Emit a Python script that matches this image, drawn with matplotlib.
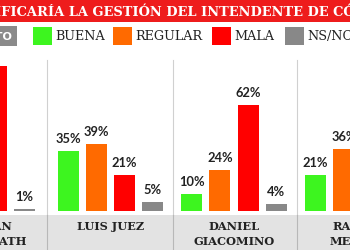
import matplotlib.pyplot as plt
from matplotlib.patches import Rectangle

# survey data (cropped view of a wider chart)
candidates = ["GERMÁN\nKAMMERATH", "LUIS JUEZ", "DANIEL\nGIACOMINO", "RAMÓN\nMESTRE"]
categories = ["BUENA", "REGULAR", "MALA", "NS/NC"]
buena = [4, 35, 10, 21]
regular = [10, 39, 24, 36]
mala = [85, 21, 62, 39]
nsnc = [1, 5, 4, 4]

title = "¿CÓMO CALIFICARÍA LA GESTIÓN DEL INTENDENTE DE CÓRDOBA?"
colors = ["#3df51f", "#ff6a00", "#ff0000", "#888888"]

W, H = 350, 250
fig = plt.figure(figsize=(3.5, 2.5), dpi=100)

# background / decoration axes in pixel coordinates
bg = fig.add_axes([0, 0, 1, 1])
bg.set_xlim(0, W)
bg.set_ylim(H, 0)
bg.axis("off")

bg.add_patch(Rectangle((0, 0), W, 22, color="#ee1c1c", lw=0))
bg.add_patch(Rectangle((0, 215), W, 35, color="#e3e3e3", lw=0))

group_x = [-18, 110.5, 234, 358]
seps = [46.5, 173, 297]
for s in seps:
    bg.plot([s, s], [60, 215], color="#d0d0d0", lw=0.8)
    bg.plot([s, s], [215, 250], color="#b8b8b8", lw=0.8)

# title, shifted so that the crop starts inside "CALIFICARÍA"
tfont = dict(fontsize=9.4, fontweight="bold", family="DejaVu Serif")
t = bg.text(0, 11.5, title, color="white", va="center", ha="left", **tfont)
fig.canvas.draw()
pre = bg.text(0, 11.5, "¿CÓMO CALI", va="center", **tfont)
r = fig.canvas.get_renderer()
wpre = pre.get_window_extent(r).width
pre.remove()
t.set_x(-wpre + 1)

# legend row
bg.add_patch(Rectangle((-30, 26), 47, 20, color="#8a8a8a", lw=0))
bg.text(13, 36.5, "VOTO", color="white", fontsize=8, fontweight="bold",
        family="DejaVu Sans", ha="right", va="center")
leg_x = [33, 113, 212, 285]
for lx, lab, c in zip(leg_x, categories, colors):
    bg.add_patch(Rectangle((lx, 27), 18.5, 18, color=c, lw=0))
    bg.text(lx + 22, 36.5, lab, fontsize=9.2, family="DejaVu Serif",
            color="#222222", ha="left", va="center")

# candidate names
for gx, name in zip(group_x, candidates):
    bg.text(gx, 220.5, name, fontsize=8.2, fontweight="bold", family="DejaVu Serif",
            color="#222222", ha="center", va="top", linespacing=1.5)

# bars
ax = fig.add_axes([0, (H - 211) / H, 1, 189 / H])
ax.set_xlim(0, W)
ax.set_ylim(0, 189 / 1.71)
ax.axis("off")
ax.patch.set_alpha(0)

series = [buena, regular, mala, nsnc]
step = 28.2
for j, (vals, c) in enumerate(zip(series, colors)):
    xs = [gx + (j - 1.5) * step for gx in group_x]
    bars = ax.bar(xs, vals, width=21, color=c)
    ax.bar_label(bars, labels=[f"{v}%" for v in vals], padding=4.5, fontsize=9.3,
                 fontweight="bold", family="Lato", color="#222222")

fig.savefig("out.png", dpi=100)
